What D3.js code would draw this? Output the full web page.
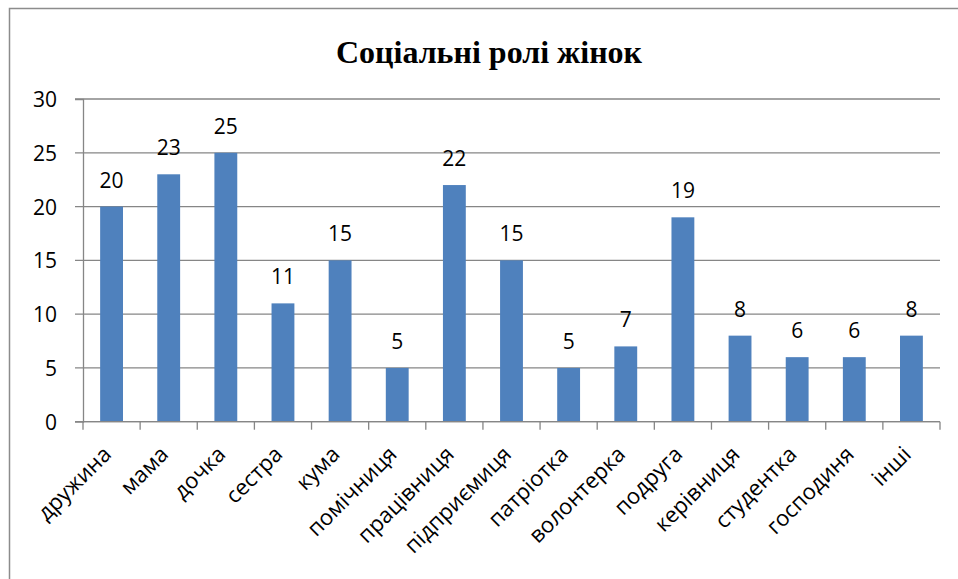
<!DOCTYPE html>
<html>
<head>
<meta charset="utf-8">
<script src="https://cdn.jsdelivr.net/npm/d3@7"></script>
<style>
  body { margin: 0; background: #fff; }
  .tick text { font-family: "Open Sans", sans-serif; }
</style>
</head>
<body>
<div id="chart"></div>
<script>
// chart data
var roles = ["дружина", "мама", "дочка", "сестра", "кума", "помічниця", "працівниця",
             "підприємиця", "патріотка", "волонтерка", "подруга", "керівниця",
             "студентка", "господиня", "інші"];
var counts = [20, 23, 25, 11, 15, 5, 22, 15, 5, 7, 19, 8, 6, 6, 8];
var yTicks = [0, 5, 10, 15, 20, 25, 30];
var title = "Соціальні ролі жінок";

var W = 958, H = 579;
var margin = {top: 99, right: 18, bottom: 157, left: 83},
    width = 940 - margin.left,
    height = 421.7 - margin.top;

var svg = d3.select("#chart").append("svg")
    .attr("width", W)
    .attr("height", H);

// outer chart border (runs off the right and bottom of the picture)
svg.append("rect")
    .attr("x", 9.5).attr("y", 8.5)
    .attr("width", 1000).attr("height", 700)
    .attr("fill", "none")
    .attr("stroke", "#8c8c8c")
    .attr("stroke-width", 1.5);

svg.append("text")
    .attr("x", 489)
    .attr("y", 63)
    .attr("text-anchor", "middle")
    .style("font-family", "'Liberation Serif', 'Times New Roman', serif")
    .style("font-weight", "bold")
    .style("font-size", "32px")
    .text(title);

var g = svg.append("g")
    .attr("transform", "translate(" + margin.left + "," + margin.top + ")");

var x = d3.scaleBand()
    .domain(roles)
    .range([0, width])
    .paddingInner(0.6)
    .paddingOuter(0.3);

var y = d3.scaleLinear()
    .domain([0, 30])
    .range([height, 0]);

// gridlines + y axis
var yAxis = g.append("g")
    .call(d3.axisLeft(y).tickValues(yTicks).tickSize(8).tickPadding(10));
yAxis.select(".domain").attr("stroke", "#868686").attr("stroke-width", 1.3);
yAxis.selectAll(".tick line").remove();
yAxis.selectAll(".tick text")
    .style("font-size", "21px")
    .attr("fill", "#000")
    .attr("x", -26)
    .attr("dy", "0.36em");

g.selectAll(".grid")
    .data(yTicks)
    .enter().append("line")
    .attr("class", "grid")
    .attr("x1", -8)
    .attr("x2", width)
    .attr("y1", function(d) { return y(d); })
    .attr("y2", function(d) { return y(d); })
    .attr("stroke", "#868686")
    .attr("stroke-width", 1.3);

// bars
g.selectAll(".bar")
    .data(counts)
    .enter().append("rect")
    .attr("class", "bar")
    .attr("x", function(d, i) { return x(roles[i]); })
    .attr("width", x.bandwidth())
    .attr("y", function(d) { return y(d); })
    .attr("height", function(d) { return height - y(d); })
    .attr("fill", "#4f81bd");

// value labels
g.selectAll(".lbl")
    .data(counts)
    .enter().append("text")
    .attr("class", "lbl")
    .attr("x", function(d, i) { return x(roles[i]) + x.bandwidth() / 2; })
    .attr("y", function(d) { return y(d) - 19; })
    .attr("text-anchor", "middle")
    .style("font-family", "'Open Sans', sans-serif")
    .style("font-size", "21px")
    .text(function(d) { return d; });

// x axis, ticks at band boundaries
var step = x.step();
var xAxis = g.append("g")
    .attr("transform", "translate(0," + height + ")");
xAxis.append("line")
    .attr("x1", 0).attr("x2", width)
    .attr("stroke", "#868686").attr("stroke-width", 1.3);
xAxis.selectAll(".xt")
    .data(d3.range(roles.length + 1))
    .enter().append("line")
    .attr("x1", function(i) { return i * step; })
    .attr("x2", function(i) { return i * step; })
    .attr("y1", 0).attr("y2", 8)
    .attr("stroke", "#868686").attr("stroke-width", 1.3);

xAxis.selectAll(".xl")
    .data(roles)
    .enter().append("text")
    .attr("text-anchor", "end")
    .attr("transform", function(d) {
      return "translate(" + (x(d) + x.bandwidth() / 2 + 1) + ",34) rotate(-45)";
    })
    .style("font-family", "'Open Sans', sans-serif")
    .style("font-size", "22px")
    .text(function(d) { return d; });
</script>
</body>
</html>
